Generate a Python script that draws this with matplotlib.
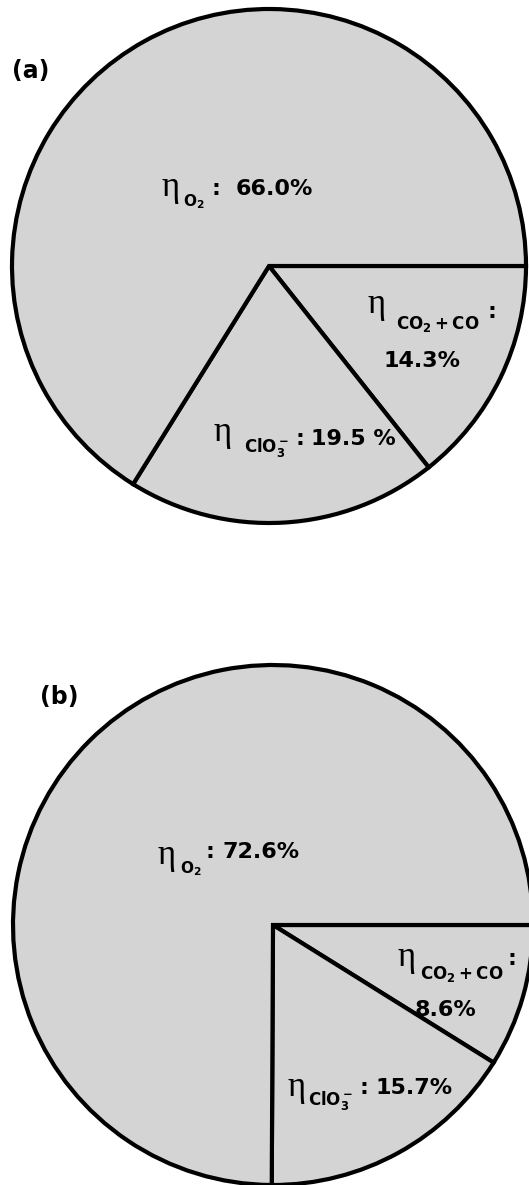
import matplotlib
matplotlib.use('Agg')
import matplotlib.pyplot as plt

plt.rcParams['mathtext.fontset'] = 'custom'
plt.rcParams['mathtext.rm'] = 'DejaVu Sans:bold'
plt.rcParams['mathtext.bf'] = 'DejaVu Sans:bold'
plt.rcParams['mathtext.it'] = 'DejaVu Sans:bold'

# faradaic efficiencies (%), wedges in order starting at 3 o'clock, clockwise
panels = ['(a)', '(b)']
species = [r'$\mathbf{CO_2+CO}$', r'$\mathbf{ClO_3^-}$', r'$\mathbf{O_2}$']
eff_a = [14.3, 19.5, 66.0]
eff_b = [8.6, 15.7, 72.6]
pct_fmt = [['{:.1f}%', '{:.1f} %', '{:.1f}%'], ['{:.1f}%', '{:.1f}%', '{:.1f}%']]

W, H = 529, 1185
FILL = '#d4d4d4'
SANS = 'DejaVu Sans'
SERIF = 'Liberation Serif'

fig = plt.figure(figsize=(W / 100, H / 100), dpi=100)
ax = fig.add_axes([0, 0, 1, 1])

# pie geometry in pixel coords (y down)
geom = [
    dict(center=(269, 266), radius=257),
    dict(center=(273, 925), radius=260),
]

# label layout per wedge: eta pos, subscript pos+size, colon pos, value pos
layout = [
    [   # (a)
        dict(eta=(368, 313), sub=(396, 329, 12), colon=(488, 318), val=(384, 367)),
        dict(eta=(214, 441), sub=(244, 452, 12), colon=(295, 445), val=(311, 445)),
        dict(eta=(161, 196), sub=(183, 206, 11), colon=(211, 195), val=(236, 195)),
    ],
    [   # (b)
        dict(eta=(398, 966), sub=(420, 979, 12), colon=(508, 965), val=(415, 1016)),
        dict(eta=(288, 1096), sub=(308, 1105, 12), colon=(360, 1094), val=(376, 1094)),
        dict(eta=(158, 864), sub=(180, 873, 11), colon=(206, 858), val=(222, 858)),
    ],
]
panel_pos = [(12, 78), (40, 704)]

for k, vals in enumerate([eff_a, eff_b]):
    g = geom[k]
    ax.pie(vals, center=g['center'], radius=g['radius'], startangle=0,
           counterclock=True, colors=[FILL] * len(vals),
           wedgeprops=dict(edgecolor='black', linewidth=3))
    for j, v in enumerate(vals):
        lay = layout[k][j]
        ax.text(*lay['eta'], '\u03b7', fontsize=25, family=SERIF,
                ha='left', va='baseline')
        sx, sy, ss = lay['sub']
        ax.text(sx, sy, species[j], fontsize=ss, ha='left', va='baseline')
        ax.text(*lay['colon'], ':', fontsize=16, family=SANS,
                fontweight='bold', ha='left', va='baseline')
        ax.text(*lay['val'], pct_fmt[k][j].format(v), fontsize=16, family=SANS,
                fontweight='bold', ha='left', va='baseline')
    ax.text(*panel_pos[k], panels[k], fontsize=17, family=SANS,
            fontweight='bold', ha='left', va='baseline')

ax.set_xlim(0, W)
ax.set_ylim(H, 0)
ax.set_aspect('equal')
ax.axis('off')

fig.savefig('out.png', dpi=100)
